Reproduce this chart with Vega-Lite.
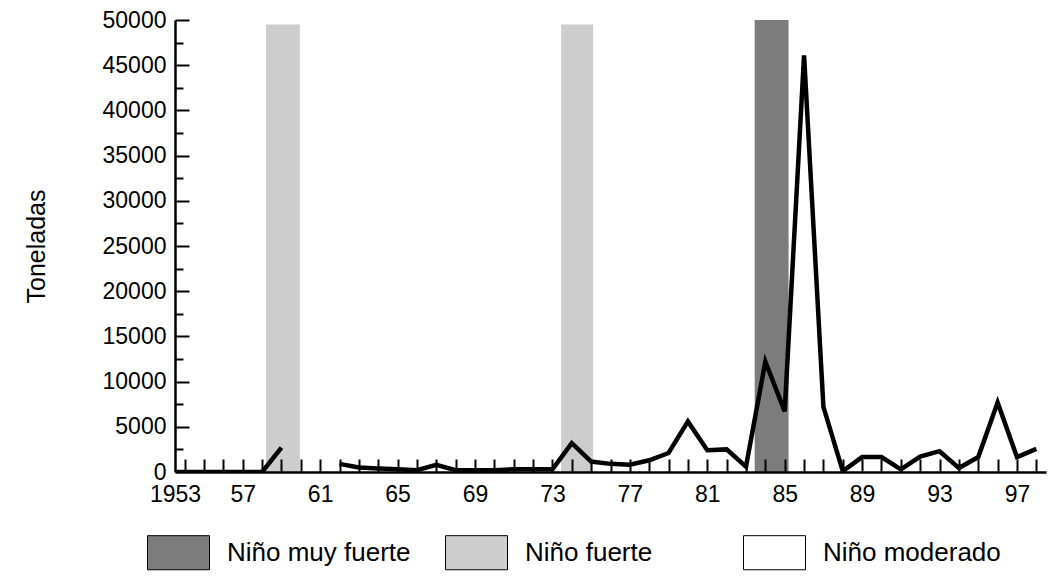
{
  "$schema": "https://vega.github.io/schema/vega-lite/v6.json",
  "width": 871,
  "height": 452,
  "autosize": "none",
  "padding": {"left": 175, "top": 20, "right": 11, "bottom": 116},
  "background": "white",
  "config": {"view": {"stroke": null}, "font": "Liberation Sans"},
  "datasets": {
    "bandas": [
      {"tipo": "Niño fuerte", "inicio": 1958.2, "fin": 1959.95, "tope": 49500},
      {"tipo": "Niño fuerte", "inicio": 1973.45, "fin": 1975.1, "tope": 49500},
      {"tipo": "Niño muy fuerte", "inicio": 1983.45, "fin": 1985.2, "tope": 50000}
    ],
    "capturas": [
      {"tramo": "A", "anio": 1953, "toneladas": 0},
      {"tramo": "A", "anio": 1954, "toneladas": 0},
      {"tramo": "A", "anio": 1955, "toneladas": 0},
      {"tramo": "A", "anio": 1956, "toneladas": 0},
      {"tramo": "A", "anio": 1957, "toneladas": 0},
      {"tramo": "A", "anio": 1958, "toneladas": 0},
      {"tramo": "A", "anio": 1959, "toneladas": 2700},
      {"tramo": "B", "anio": 1962, "toneladas": 900},
      {"tramo": "B", "anio": 1963, "toneladas": 500},
      {"tramo": "B", "anio": 1964, "toneladas": 400},
      {"tramo": "B", "anio": 1965, "toneladas": 300},
      {"tramo": "B", "anio": 1966, "toneladas": 200},
      {"tramo": "B", "anio": 1967, "toneladas": 800},
      {"tramo": "B", "anio": 1968, "toneladas": 200},
      {"tramo": "B", "anio": 1969, "toneladas": 200},
      {"tramo": "B", "anio": 1970, "toneladas": 200},
      {"tramo": "B", "anio": 1971, "toneladas": 300},
      {"tramo": "B", "anio": 1972, "toneladas": 300},
      {"tramo": "B", "anio": 1973, "toneladas": 300},
      {"tramo": "B", "anio": 1974, "toneladas": 3200},
      {"tramo": "B", "anio": 1975, "toneladas": 1150},
      {"tramo": "B", "anio": 1976, "toneladas": 900},
      {"tramo": "B", "anio": 1977, "toneladas": 800},
      {"tramo": "B", "anio": 1978, "toneladas": 1300},
      {"tramo": "B", "anio": 1979, "toneladas": 2100},
      {"tramo": "B", "anio": 1980, "toneladas": 5600},
      {"tramo": "B", "anio": 1981, "toneladas": 2400},
      {"tramo": "B", "anio": 1982, "toneladas": 2500},
      {"tramo": "B", "anio": 1983, "toneladas": 600},
      {"tramo": "B", "anio": 1984, "toneladas": 12200},
      {"tramo": "B", "anio": 1985, "toneladas": 6700},
      {"tramo": "B", "anio": 1986, "toneladas": 46100},
      {"tramo": "B", "anio": 1987, "toneladas": 7200},
      {"tramo": "B", "anio": 1988, "toneladas": 100},
      {"tramo": "B", "anio": 1989, "toneladas": 1650},
      {"tramo": "B", "anio": 1990, "toneladas": 1650},
      {"tramo": "B", "anio": 1991, "toneladas": 300},
      {"tramo": "B", "anio": 1992, "toneladas": 1700},
      {"tramo": "B", "anio": 1993, "toneladas": 2300},
      {"tramo": "B", "anio": 1994, "toneladas": 450},
      {"tramo": "B", "anio": 1995, "toneladas": 1650},
      {"tramo": "B", "anio": 1996, "toneladas": 7700},
      {"tramo": "B", "anio": 1997, "toneladas": 1650},
      {"tramo": "B", "anio": 1998, "toneladas": 2550}
    ]
  },
  "resolve": {"axis": {"x": "independent", "y": "independent"}},
  "layer": [
    {
      "data": {"name": "bandas"},
      "mark": {"type": "rect"},
      "encoding": {
        "x": {
          "field": "inicio",
          "type": "quantitative",
          "scale": {"domain": [1953.5, 1998.5], "nice": false, "zero": false},
          "axis": {
            "orient": "bottom",
            "title": null,
            "values": [1953.5, 1957, 1961, 1965, 1969, 1973, 1977, 1981, 1985, 1989, 1993, 1997],
            "labelExpr": "datum.value == 1953.5 ? '1953' : slice(toString(datum.value), 2)",
            "grid": false,
            "ticks": false,
            "domainColor": "black",
            "domainWidth": 2.5,
            "labelFontSize": 23,
            "labelColor": "black",
            "labelPadding": 11,
            "labelFlush": false,
            "labelOverlap": false,
            "zindex": 1
          }
        },
        "x2": {"field": "fin"},
        "y": {
          "field": "tope",
          "type": "quantitative",
          "scale": {"domain": [0, 50000], "nice": false},
          "axis": {
            "orient": "left",
            "title": "Toneladas",
            "titleFontSize": 25,
            "titleFontWeight": "normal",
            "titleColor": "black",
            "titlePadding": 53,
            "values": [0, 5000, 10000, 15000, 20000, 25000, 30000, 35000, 40000, 45000, 50000],
            "format": "d",
            "grid": false,
            "ticks": false,
            "domainColor": "black",
            "domainWidth": 2.5,
            "labelFontSize": 23,
            "labelColor": "black",
            "labelPadding": 9,
            "labelFlush": false,
            "labelOverlap": false,
            "zindex": 1
          }
        },
        "y2": {"datum": 0},
        "color": {
          "field": "tipo",
          "type": "nominal",
          "scale": {"domain": ["Niño muy fuerte", "Niño fuerte", "Niño moderado"], "range": ["#7c7c7c", "#cdcdcd", "#ffffff"]},
          "legend": {
            "orient": "none",
            "legendX": -28,
            "legendY": 501,
            "direction": "horizontal",
            "columns": 3,
            "gridAlign": "all",
            "title": null,
            "symbolType": "M-1,-0.55H1V0.55H-1Z",
            "symbolSize": 3844,
            "symbolStrokeColor": "black",
            "symbolStrokeWidth": 1,
            "symbolOpacity": 1,
            "labelFontSize": 26,
            "labelColor": "black",
            "labelOffset": 17,
            "labelLimit": 400,
            "columnPadding": 32
          }
        }
      }
    },
    {
      "data": {"name": "capturas"},
      "mark": {"type": "line", "color": "black", "strokeWidth": 4, "opacity": 0},
      "encoding": {
        "x": {
          "field": "anio",
          "type": "quantitative",
          "scale": {"domain": [1953.5, 1998.5], "nice": false, "zero": false},
          "axis": null
        },
        "y": {
          "field": "toneladas",
          "type": "quantitative",
          "scale": {"domain": [0, 50000], "nice": false},
          "axis": {
            "orient": "right",
            "offset": -871,
            "title": null,
            "values": [2500, 7500, 12500, 17500, 22500, 27500, 32500, 37500, 42500, 47500],
            "labels": false,
            "domain": false,
            "grid": false,
            "ticks": true,
            "tickColor": "black",
            "tickWidth": 2,
            "tickSize": 8,
            "zindex": 1
          }
        },
        "detail": {"field": "tramo"}
      }
    },
    {
      "data": {"name": "capturas"},
      "mark": {"type": "line", "color": "black", "strokeWidth": 4.5, "clip": true},
      "encoding": {
        "x": {
          "field": "anio",
          "type": "quantitative",
          "scale": {"domain": [1953.5, 1998.5], "nice": false, "zero": false},
          "axis": {
            "orient": "top",
            "offset": -452,
            "title": null,
            "values": [1954, 1955, 1956, 1957, 1958, 1959, 1960, 1961, 1962, 1963, 1964, 1965, 1966, 1967, 1968, 1969, 1970, 1971, 1972, 1973, 1974, 1975, 1976, 1977, 1978, 1979, 1980, 1981, 1982, 1983, 1984, 1985, 1986, 1987, 1988, 1989, 1990, 1991, 1992, 1993, 1994, 1995, 1996, 1997, 1998],
            "labels": false,
            "domain": false,
            "grid": false,
            "ticks": true,
            "tickColor": "black",
            "tickWidth": 2,
            "tickSize": 13,
            "zindex": 1
          }
        },
        "y": {
          "field": "toneladas",
          "type": "quantitative",
          "scale": {"domain": [0, 50000], "nice": false},
          "axis": {
            "orient": "right",
            "offset": -871,
            "title": null,
            "values": [5000, 10000, 15000, 20000, 25000, 30000, 35000, 40000, 45000, 50000],
            "labels": false,
            "domain": false,
            "grid": false,
            "ticks": true,
            "tickColor": "black",
            "tickWidth": 2,
            "tickSize": 14,
            "zindex": 1
          }
        },
        "detail": {"field": "tramo"}
      }
    }
  ]
}
